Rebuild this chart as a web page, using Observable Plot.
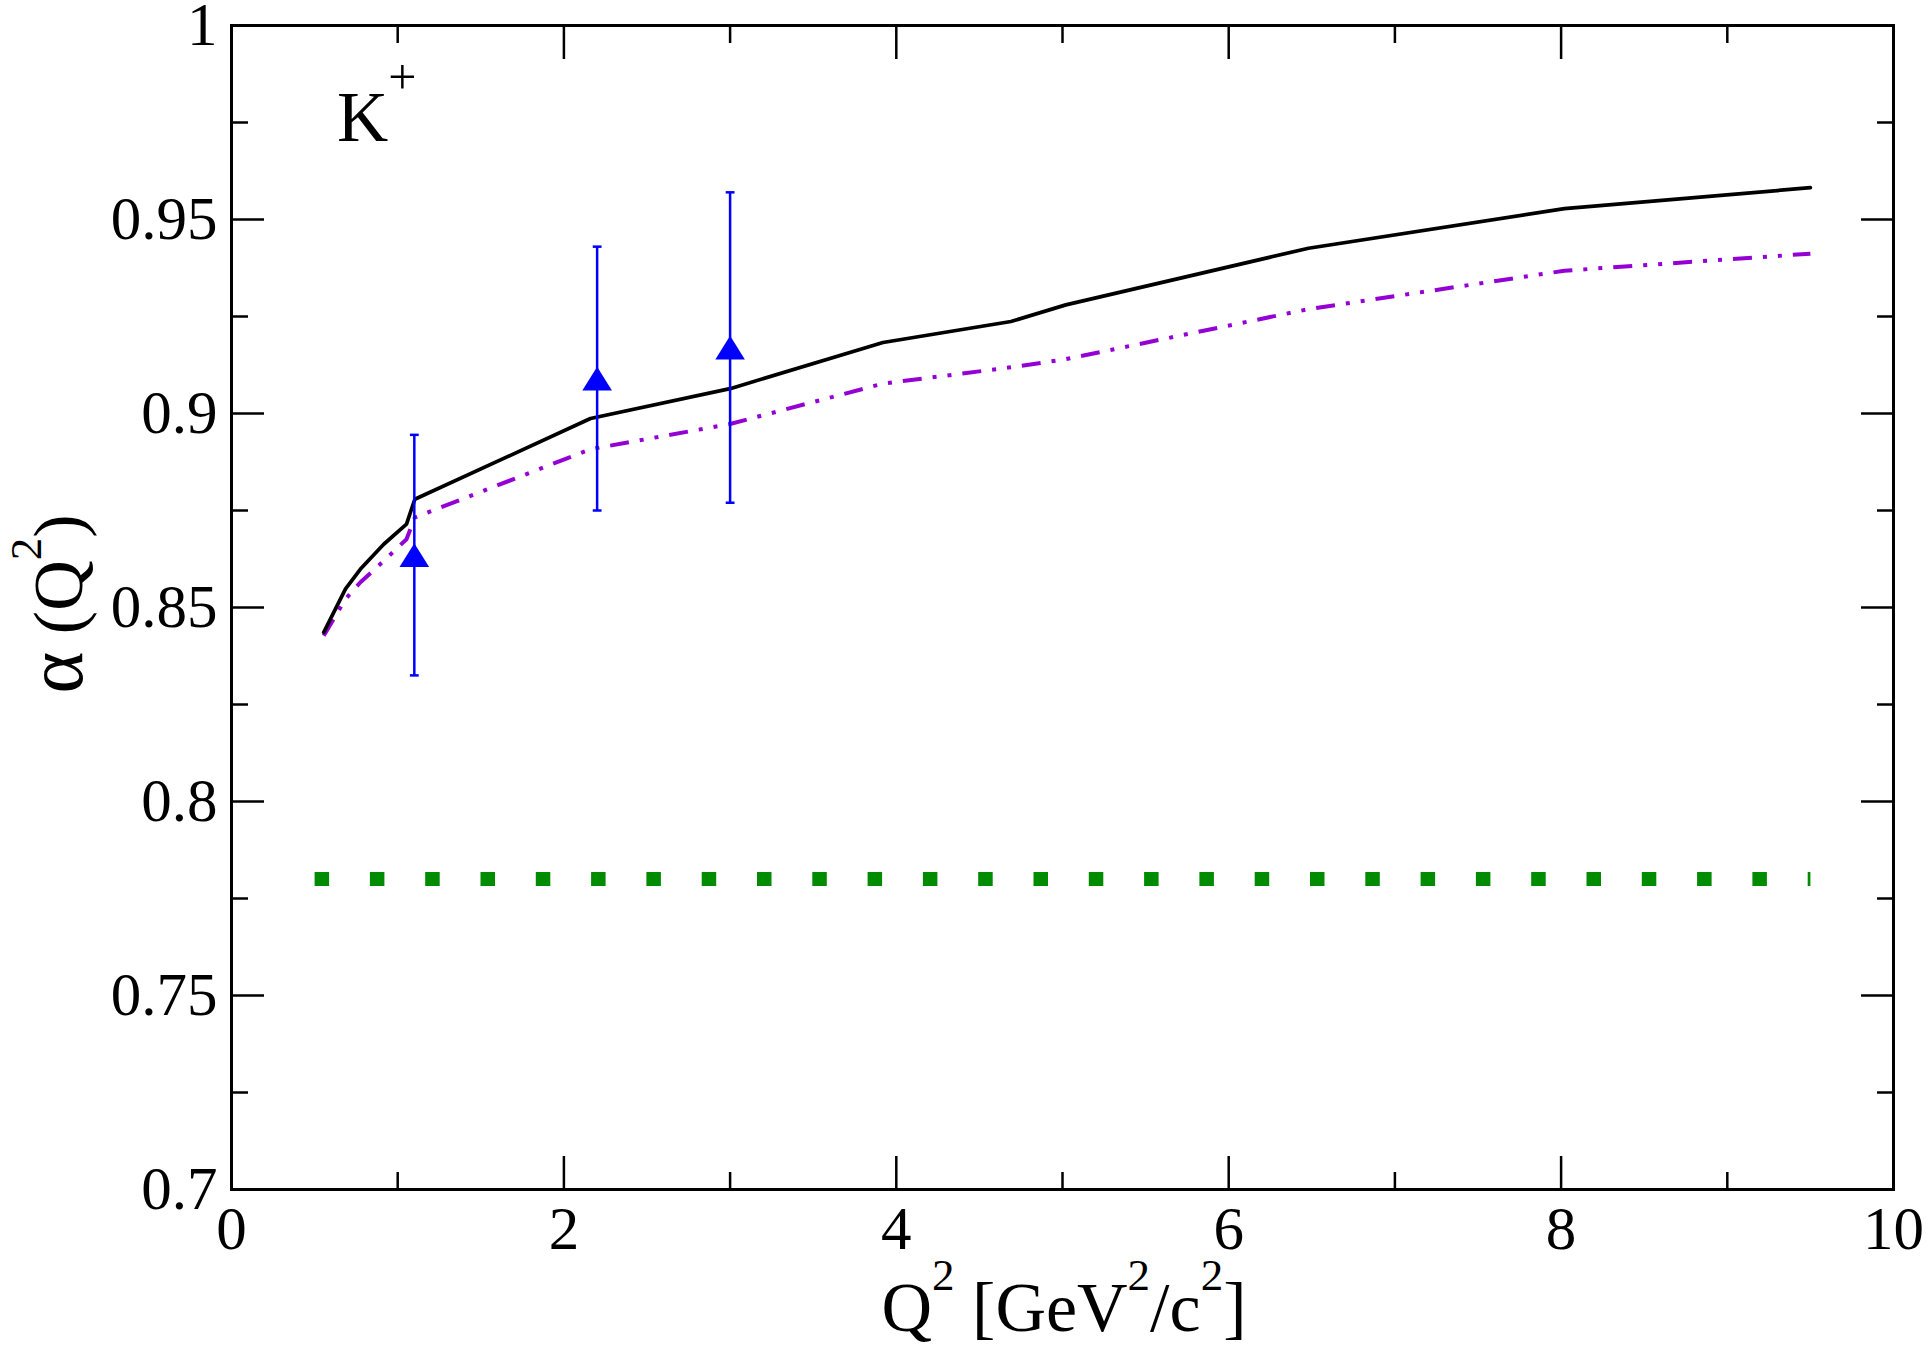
<!DOCTYPE html>
<html>
<head>
<meta charset="utf-8">
<script src="https://cdn.jsdelivr.net/npm/d3@7"></script>
<script src="https://cdn.jsdelivr.net/npm/@observablehq/plot@0.6"></script>
<style>
  html, body { margin: 0; padding: 0; background: #fff; }
  svg { display: block; }
</style>
</head>
<body>
<div id="chart"></div>
<script>
// ---- data ----
const modelQ2      = [0.555, 0.686, 0.776, 0.916, 1.053, 1.103, 2.16, 3.0, 3.92, 4.69, 5.02, 6.48, 8.02, 9.5];
const alphaSolid   = [0.8436, 0.8548, 0.8599, 0.8663, 0.8715, 0.8779, 0.8987, 0.9064, 0.9183, 0.9237, 0.928, 0.9426, 0.9528, 0.9582];
const alphaDashDot = [0.8427, 0.8522, 0.8565, 0.862, 0.8676, 0.8732, 0.8908, 0.8973, 0.9077, 0.9119, 0.914, 0.9269, 0.9368, 0.9412];
const dataQ2    = [1.1, 2.2, 3.0];
const dataAlpha = [0.8635, 0.909, 0.917];
const dataErr   = [0.031, 0.034, 0.040];
const limitQ2    = [0.5, 9.5];
const limitAlpha = [0.78, 0.78];
const xTicks = [0, 2, 4, 6, 8, 10];
const xTickLabels = ["0", "2", "4", "6", "8", "10"];
const xMinorTicks = [1, 3, 5, 7, 9];
const yTicks = [0.7, 0.75, 0.8, 0.85, 0.9, 0.95, 1];
const yTickLabels = ["0.7", "0.75", "0.8", "0.85", "0.9", "0.95", "1"];
const yMinorTicks = [0.725, 0.775, 0.825, 0.875, 0.925, 0.975];

// ---- tables built from the arrays ----
const model = modelQ2.map((q, i) => ({q, solid: alphaSolid[i], dashdot: alphaDashDot[i]}));
const points = dataQ2.map((q, i) => ({q, a: dataAlpha[i], lo: dataAlpha[i] - dataErr[i], hi: dataAlpha[i] + dataErr[i]}));
const limit = limitQ2.map((q, i) => ({q, a: limitAlpha[i]}));

// custom symbols
const triangleUp = {
  draw(ctx, size) {
    const r = Math.sqrt(size / Math.PI);
    ctx.moveTo(0, -1.165 * r);
    ctx.lineTo(1.45 * r, 1.165 * r);
    ctx.lineTo(-1.45 * r, 1.165 * r);
    ctx.closePath();
  }
};
const capLine = {
  draw(ctx, size) {
    const r = Math.sqrt(size / Math.PI);
    ctx.moveTo(-r, 0);
    ctx.lineTo(r, 0);
  }
};

const FONT = "'Liberation Serif', 'Times New Roman', Times, serif";
const tickStroke = {stroke: "black", strokeWidth: 2.5, strokeLinecap: "butt"};

const chart = Plot.plot({
  width: 1930,
  height: 1359,
  marginLeft: 231,
  marginRight: 37,
  marginTop: 25,
  marginBottom: 170,
  x: {domain: [0, 10]},
  y: {domain: [0.7, 1]},
  style: {fontFamily: FONT, fontSize: "61px", color: "black", background: "white"},
  marks: [
    Plot.line(limit, {x: "q", y: "a", stroke: "#008b00", strokeWidth: 14, strokeDasharray: "14.5,40.8", strokeLinecap: "butt"}),
    Plot.line(model, {x: "q", y: "dashdot", stroke: "#9400d3", strokeWidth: 4, strokeDasharray: "19,11,4,11,4,11", strokeLinecap: "butt"}),
    Plot.line(model, {x: "q", y: "solid", stroke: "black", strokeWidth: 3.7}),
    Plot.ruleX(points, {x: "q", y1: "lo", y2: "hi", stroke: "blue", strokeWidth: 2.5}),
    Plot.dot(points, {x: "q", y: "lo", symbol: capLine, r: 4.4, stroke: "blue", fill: "none", strokeWidth: 2.5}),
    Plot.dot(points, {x: "q", y: "hi", symbol: capLine, r: 4.4, stroke: "blue", fill: "none", strokeWidth: 2.5}),
    Plot.dot(points, {x: "q", y: "a", symbol: triangleUp, r: 10.2, fill: "blue", stroke: "none"}),
    // labels
    Plot.axisX(xTicks, {anchor: "bottom", tickSize: 0, tickPadding: 16, tickFormat: (d, i) => xTickLabels[i], label: null, fontSize: 61}),
    Plot.axisY(yTicks, {anchor: "left", tickSize: 0, tickPadding: 14, tickFormat: (d, i) => yTickLabels[i], label: null, fontSize: 61}),
    // inward ticks on all four sides
    Plot.axisX(xTicks, {anchor: "bottom", tickSize: -33, tickFormat: () => "", label: null, ...tickStroke}),
    Plot.axisX(xMinorTicks, {anchor: "bottom", tickSize: -17, tickFormat: () => "", label: null, ...tickStroke}),
    Plot.axisX(xTicks, {anchor: "top", tickSize: -33, tickFormat: () => "", label: null, ...tickStroke}),
    Plot.axisX(xMinorTicks, {anchor: "top", tickSize: -17, tickFormat: () => "", label: null, ...tickStroke}),
    Plot.axisY(yTicks, {anchor: "left", tickSize: -33, tickFormat: () => "", label: null, ...tickStroke}),
    Plot.axisY(yMinorTicks, {anchor: "left", tickSize: -17, tickFormat: () => "", label: null, ...tickStroke}),
    Plot.axisY(yTicks, {anchor: "right", tickSize: -33, tickFormat: () => "", label: null, ...tickStroke}),
    Plot.axisY(yMinorTicks, {anchor: "right", tickSize: -17, tickFormat: () => "", label: null, ...tickStroke}),
    Plot.frame({stroke: "black", strokeWidth: 3})
  ]
});

document.getElementById("chart").appendChild(chart);

// ---- titles and annotation with superscripts ----
const svg = d3.select(chart);
const xs = chart.scale("x"), ys = chart.scale("y");
const x0 = xs.range[0], x1 = xs.range[1];
const yTop = Math.min(...ys.range), yBot = Math.max(...ys.range);

function sup(textSel, parts) {
  // parts: [text, isSup, fontSize?]
  let raised = false;
  for (const [t, s, fs] of parts) {
    const ts = textSel.append("tspan").text(t);
    if (fs) ts.attr("font-size", fs);
    if (s && !raised) { ts.attr("dy", -41).attr("font-size", 45); raised = true; }
    else if (s) { ts.attr("font-size", 45); }
    else if (!s && raised) { ts.attr("dy", 41); raised = false; }
  }
}

// x-axis title
const xt = svg.append("text")
  .attr("x", (x0 + x1) / 2 + 2)
  .attr("y", yBot + 142)
  .attr("text-anchor", "middle")
  .attr("font-family", FONT)
  .attr("font-size", 70)
  .attr("fill", "black");
sup(xt, [["Q", false], ["2", true], [" [GeV", false], ["2", true], ["/c", false], ["2", true], ["]", false]]);

// y-axis title
const yt = svg.append("text")
  .attr("transform", `translate(82,${(yTop + yBot) / 2 - 3}) rotate(-90)`)
  .attr("text-anchor", "middle")
  .attr("font-family", FONT)
  .attr("font-size", 70)
  .attr("fill", "black");
sup(yt, [["α", false, 80], [" (Q", false], ["2", true], [")", false]]);

// K+ label
const kt = svg.append("text")
  .attr("x", x0 + 106)
  .attr("y", yTop + 116)
  .attr("text-anchor", "start")
  .attr("font-family", FONT)
  .attr("font-size", 71)
  .attr("fill", "black");
kt.append("tspan").text("K");
kt.append("tspan").text("+").attr("font-size", 50).attr("dy", -47);
</script>
</body>
</html>
